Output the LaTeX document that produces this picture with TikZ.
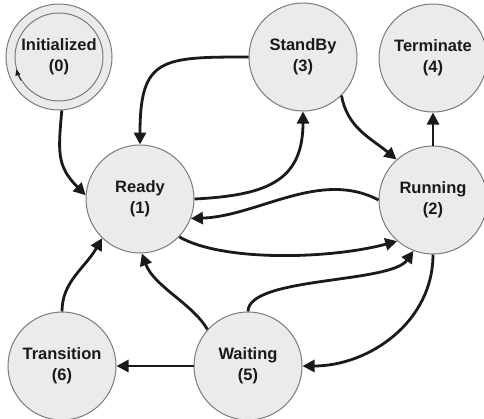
\documentclass[tikz,border=0pt]{standalone}
\usepackage{fontspec}
\setmainfont{Liberation Sans}
\usetikzlibrary{arrows.meta}
\definecolor{nodefill}{HTML}{EBEBEB}
\definecolor{nodeline}{HTML}{7A7A7A}
\definecolor{ink}{HTML}{1A1A1A}
\begin{document}
\begin{tikzpicture}[x=1pt,y=1pt,
  state/.style={circle, draw=nodeline, line width=1pt, fill=nodefill, minimum size=108pt, inner sep=0pt, align=center, font=\fontsize{16.5}{21}\selectfont\bfseries, text=ink},
  ring/.style={circle, draw=nodeline, line width=1pt, minimum size=88pt, inner sep=0pt},
  edge/.style={draw=ink, line width=2.8pt, -{Triangle[length=12pt,width=12pt]}},
  tinyarrow/.style={draw=ink, line width=0.8pt, -{Triangle[length=6pt,width=5pt]}}]
\fill[white] (0,0) rectangle (484,-418);
\useasboundingbox (0,0) rectangle (484,-418);

\node[state, minimum size=106pt] (I0) at (59,-57) {Initialized\\(0)};
\node[ring] (I0in) at (59,-57) {};
\node[state] (R1) at (140,-199) {Ready\\(1)};
\node[state] (S3) at (303,-57) {StandBy\\(3)};
\node[state] (T4) at (433,-58) {Terminate\\(4)};
\node[state] (Run2) at (433,-200) {Running\\(2)};
\node[state] (Tr6) at (62,-366) {Transition\\(6)};
\node[state] (W5) at (248,-366) {Waiting\\(5)};

\draw[tinyarrow] (I0in.212) arc[start angle=212, end angle=196, radius=44pt];

\draw[edge] (I0.-87) to[out=-95, in=135, looseness=1.2] (R1.176);
\draw[edge] (S3.west) to[out=180, in=90, looseness=1.6] (R1.north);
\draw[edge] (R1.east) to[out=3, in=-90, looseness=1.3] (S3.south);
\draw[edge] (S3.-45) to[out=-80, in=140] (Run2.132);
\draw[edge] (Run2.north) -- (T4.south);
\draw[edge] (Run2.west) to[out=152, in=2, out distance=66pt, in distance=67pt] (R1.-21);
\draw[edge] (R1.-44) to[out=-30, in=195, out distance=50pt, in distance=70pt] (Run2.229);
\draw[edge] (W5.north) to[out=90, in=235, out distance=35pt, in distance=40pt] (Run2.249);
\draw[edge] (Run2.south) to[out=-90, in=0] (W5.east);
\draw[edge] (W5.west) -- (Tr6.east);
\draw[edge] (Tr6.north) to[out=90, in=240, out distance=30pt, in distance=35pt] (R1.226);
\draw[edge] (W5.138) to[out=120, in=-70, out distance=30pt, in distance=35pt] (R1.-88);
\end{tikzpicture}
\end{document}
